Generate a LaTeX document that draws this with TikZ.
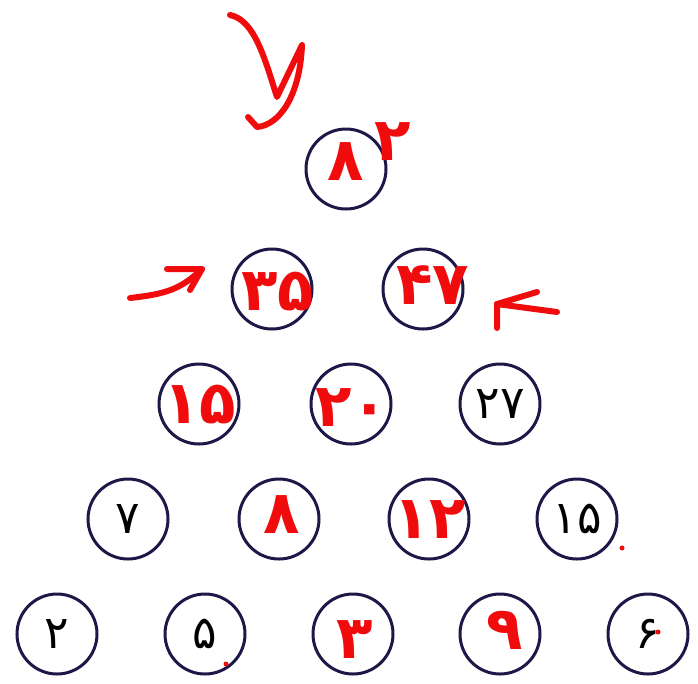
\documentclass[tikz,border=0pt]{standalone}
\usepackage{fontspec}
\newfontfamily\farsi[Script=Arabic]{DejaVu Sans}
\usetikzlibrary{positioning}
\definecolor{ink}{RGB}{28,24,72}
\definecolor{pen}{RGB}{240,12,12}

\begin{document}
\begin{tikzpicture}[
      x=0.2mm, y=-0.2mm,
      ball/.style={
          circle, draw=ink, line width=0.6mm,
          minimum size=16mm, inner sep=0pt,
          font=\farsi\fontsize{26}{26}\selectfont
        },
      hand/.style={text=pen, inner sep=0pt, font=\farsi\bfseries\fontsize{34}{34}\selectfont},
      scrawl/.style={draw=pen, line width=1.2mm, line cap=round, line join=round},
    ]
    \useasboundingbox (0,0) rectangle (698,683);

    % pyramid of circles
    \node[ball] (n82) at (346,169) {};

    \node[ball] (n35) at (272,289) {};
    \node[ball] (n47) at (423,289) {};

    \node[ball] (n15a) at (199,404) {};
    \node[ball] (n20)  at (351,404) {};
    \node[ball] (n27)  at (500,404) {۲۷};

    \node[ball] (n7)   at (128,519) {۷};
    \node[ball] (n8)   at (279,519) {};
    \node[ball] (n12)  at (429,519) {};
    \node[ball] (n15b) at (577,519) {۱۵};

    \node[ball] (n2) at (57,634)  {۲};
    \node[ball] (n5) at (205,634) {۵};
    \node[ball] (n3) at (353,634) {};
    \node[ball] (n9) at (500,634) {};
    \node[ball] (n6) at (648,634) {۶};

    % red handwriting
    \node[hand] (h82) at (346,162) {۸};
    \node[hand] (h2)  at (393,142) {۲};
    \node[hand] (h35) at (278,292) {۳۵};
    \node[hand] (h47) at (433,285) {۴۷};
    \node[hand] (h15) at (200,405) {۱۵};
    \node[hand] (h20) at (352,408) {۲۰};
    \node[hand] (h8)  at (282,515) {۸};
    \node[hand] (h12) at (430,520) {۱۲};
    \node[hand] (h3)  at (355,640) {۳};
    \node[hand] (h9)  at (505,630) {۹};

    \fill[pen] (226,664) circle (0.5mm);
    \fill[pen] (622,548) circle (0.5mm);
    \fill[pen] (658,632) circle (0.5mm);

    \draw[scrawl] (230,15) .. controls (255,20) and (265,60) .. (277,97)
      -- (302,45) .. controls (300,95) and (280,125) .. (257,127) -- (248,117);

    % arrows
    \coordinate (tailL) at (130,298);
    \coordinate (tipL) at (202,269);
    \draw[scrawl] (tailL) .. controls (165,294) and (180,290) .. (tipL);
    \draw[scrawl] (167,269) -- (tipL) -- (190,290);

    \coordinate (tailR) at (557,312);
    \coordinate (tipR) at (497,304);
    \draw[scrawl] (tailR) -- (tipR);
    \draw[scrawl] (537,292) -- (tipR) -- (497,328);
  \end{tikzpicture}
\end{document}
